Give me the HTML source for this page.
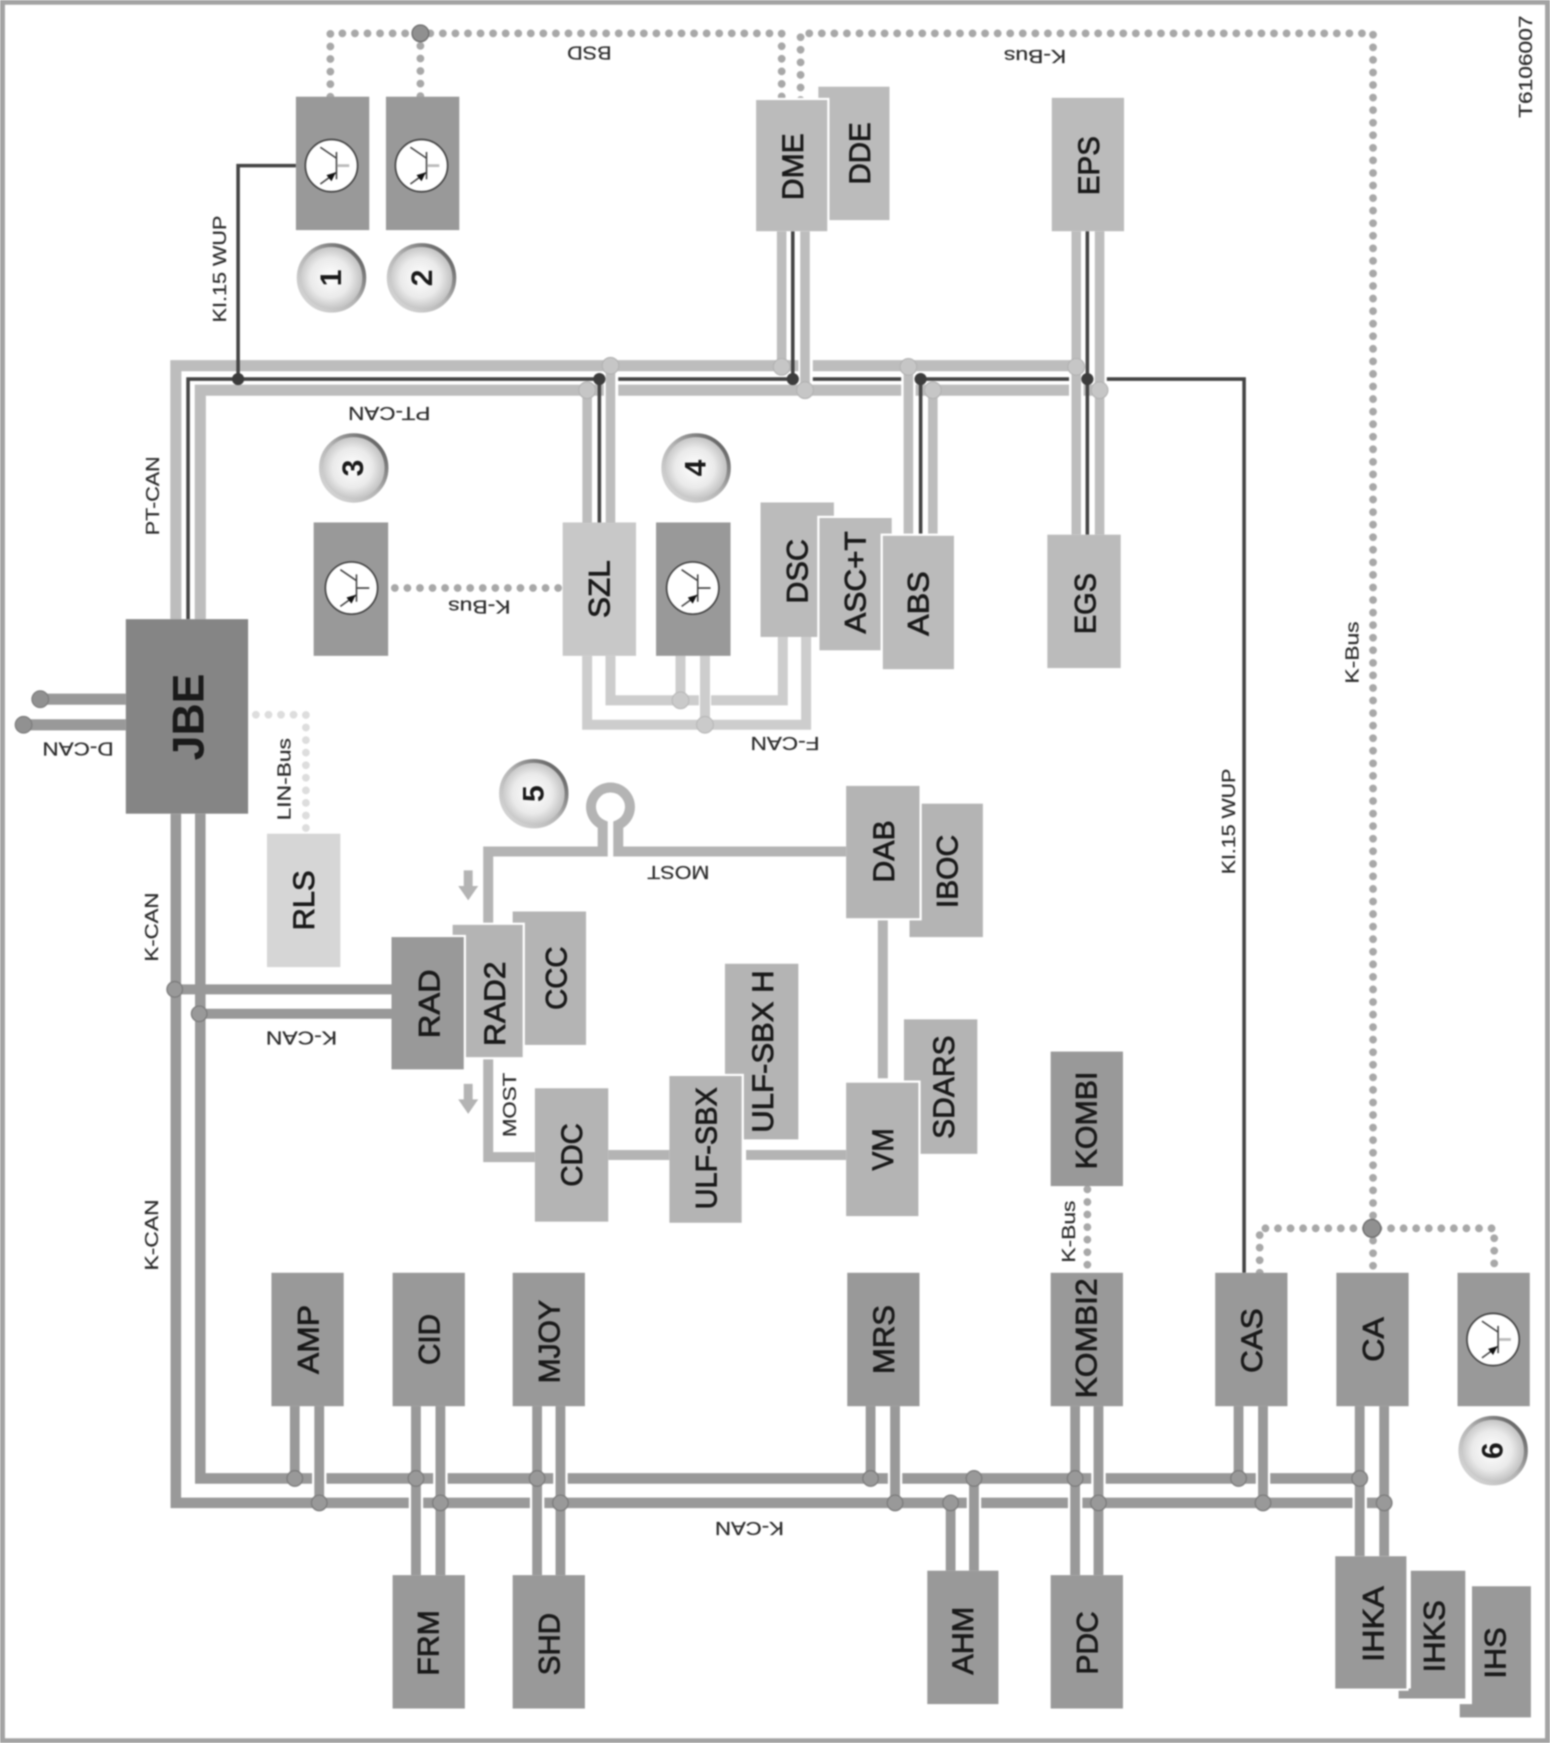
<!DOCTYPE html>
<html><head><meta charset="utf-8"><style>
html,body{margin:0;padding:0;background:#fff;width:1550px;height:1743px;overflow:hidden}
svg{display:block;filter:blur(.9px)}
text{font-family:"Liberation Sans",sans-serif;dominant-baseline:central;text-anchor:middle;fill:#1a1a1a}
.b text{font-size:27px;stroke:#1a1a1a;stroke-width:.7px}
.l text{font-size:17px;fill:#2c2c2c;stroke:#2c2c2c;stroke-width:.2px}
.n text{font-size:27px;font-weight:bold}
.d{fill:none;stroke:#a8a8a8;stroke-width:7;stroke-linecap:round;stroke-dasharray:0 11.3}
.w{fill:none;stroke:#fff}
.pt{fill:none;stroke:#bdbdbd;stroke-width:10}
.dk{fill:none;stroke:#444;stroke-width:3.2}
.f{fill:none;stroke:#cdcdcd;stroke-width:9}
.k{fill:none;stroke:#999;stroke-width:9.5}
.m{fill:none;stroke:#b4b4b4;stroke-width:9}
</style></head><body>
<svg xmlns="http://www.w3.org/2000/svg" width="1550" height="1743" viewBox="0 0 1394 1568">
<defs>
<radialGradient id="g" cx="48%" cy="50%" r="55%"><stop offset="0" stop-color="#fff"/><stop offset=".55" stop-color="#eaeaea"/><stop offset="1" stop-color="#b4b4b4"/></radialGradient>
<linearGradient id="r" x1="0" y1="1" x2="1" y2="0"><stop offset="0" stop-color="#ddd"/><stop offset=".5" stop-color="#b4b4b4"/><stop offset="1" stop-color="#4c4c4c"/></linearGradient>
<g id="tr"><circle r="23.5" fill="#fff" stroke="#444" stroke-width="1.5"/><path d="M4.5-12.3V12.3M4.5-6.6-10-16.5M4.5 6-10 16.5" fill="none" stroke="#444" stroke-width="1.4"/><path d="M4 6-4.5 8.5 0 14Z" fill="#111"/></g>
<g id="ci"><circle r="29.5" fill="url(#g)" stroke="url(#r)" stroke-width="3.5"/></g>
</defs>
<rect x="2" y="2" width="1390" height="1564" fill="#fff" stroke="#a3a3a3" stroke-width="4.5"/>

<!-- dotted buses -->
<path class="d" d="M297 87V30H703V90M378 30V87"/>
<path class="d" d="M720 90V30H1235V1145M1133 1145V1105H1344V1145"/>
<path class="d" d="M355 529H505"/>
<path class="d" d="M978 1070V1145"/>
<path class="d" style="stroke:#ddd" d="M230 643H275V747"/>
<circle cx="378" cy="30" r="7.5" fill="#909090" stroke="#6c6c6c" stroke-width="1.2"/>
<circle cx="1234" cy="1105" r="8" fill="#909090" stroke="#6c6c6c" stroke-width="1.2"/>

<!-- PT-CAN -->
<path class="pt" d="M158 557V329H968M180 557V351H989"/>
<path class="dk" d="M169 557V341H1119V1145M214 341V149H266"/>
<path class="w" stroke-width="13" d="M549.5 336V470"/>
<path class="w" stroke-width="13" d="M724.5 208V346"/>
<path class="w" stroke-width="13" d="M817 336V482"/>
<path class="w" stroke-width="13" d="M968 336V481"/>
<path class="w" stroke-width="13" d="M989 337V347"/>
<path class="pt" style="stroke-width:8.6" d="M528 351V470M549 329V470M703 208V330M724 208V351M817 330V482M839 351V482M968 208V481M989 208V481"/>
<path class="dk" d="M539 341V470M713 208V341M828 341V482M978 208V481"/>
<g fill="#c6c6c6" stroke="#b2b2b2"><circle cx="549" cy="329" r="7.5"/><circle cx="528" cy="351" r="7.5"/><circle cx="703" cy="330" r="7.5"/><circle cx="724" cy="351" r="7.5"/><circle cx="817" cy="330" r="7.5"/><circle cx="839" cy="351" r="7.5"/><circle cx="968" cy="330" r="7.5"/><circle cx="989" cy="351" r="7.5"/></g>
<g fill="#3c3c3c"><circle cx="214" cy="341" r="5.5"/><circle cx="539" cy="341" r="5.5"/><circle cx="713" cy="341" r="5.5"/><circle cx="828" cy="341" r="5.5"/><circle cx="978" cy="341" r="5.5"/></g>

<!-- F-CAN -->
<path class="f" d="M549 590V630H704V573"/>
<path class="w" stroke-width="11" d="M634 590V645"/>
<path class="f" d="M528 590V652H725V573M612 590V630M634 590V652"/>
<g fill="#cacaca" stroke="#b8b8b8"><circle cx="612" cy="630" r="7.5"/><circle cx="634" cy="652" r="7.5"/></g>

<!-- D-CAN -->
<path class="k" style="stroke-width:10" d="M36 629H113M21 652H113"/>
<g fill="#919191" stroke="#7a7a7a"><circle cx="36" cy="629" r="7.5"/><circle cx="21" cy="652" r="7.5"/></g>

<!-- K-CAN -->
<path class="k" d="M158 732V1352H1245M180 732V1330H1223"/>
<path class="k" style="stroke-width:9" d="M157 890H352M179 912H352"/>
<path class="w" stroke-width="13" d="M287 1323V1337M396 1323V1337M504 1323V1337M805 1323V1337M988 1323V1337M1136 1323V1337M374 1345V1359M483 1345V1359M876 1345V1359M967 1345V1359M1223 1345V1359"/>
<path class="k" style="stroke-width:8.8" d="M265 1265V1330M287 1265V1352M374 1265V1417M396 1265V1417M483 1265V1417M504 1265V1417M783 1265V1330M805 1265V1352M855 1352V1413M876 1330V1413M967 1265V1417M988 1265V1417M1114 1265V1330M1136 1265V1352M1223 1265V1400M1245 1265V1400"/>
<g fill="#999" stroke="#7c7c7c" stroke-width="1.2"><circle cx="157" cy="890" r="7"/><circle cx="179" cy="912" r="7"/><circle cx="265" cy="1330" r="7"/><circle cx="287" cy="1352" r="7"/><circle cx="374" cy="1330" r="7"/><circle cx="396" cy="1352" r="7"/><circle cx="483" cy="1330" r="7"/><circle cx="504" cy="1352" r="7"/><circle cx="783" cy="1330" r="7"/><circle cx="805" cy="1352" r="7"/><circle cx="855" cy="1352" r="7"/><circle cx="876" cy="1330" r="7"/><circle cx="967" cy="1330" r="7"/><circle cx="988" cy="1352" r="7"/><circle cx="1114" cy="1330" r="7"/><circle cx="1136" cy="1352" r="7"/><circle cx="1223" cy="1330" r="7"/><circle cx="1245" cy="1352" r="7"/></g>

<!-- MOST -->
<path class="m" d="M761 766H556V742A17.5 17.5 0 1 0 542 742V766H439V832M439 951V1041H481M547 1039H602M671 1039H761M794 826V970"/>
<path fill="#b4b4b4" d="M417 783h8v14h5l-9 13-9-13h5zM417 975h8v14h5l-9 13-9-13h5z"/>

<!-- boxes -->
<rect x="266" y="87" width="66" height="120" fill="#999"/>
<rect x="347" y="87" width="66" height="120" fill="#999"/>
<rect x="736" y="78" width="64" height="120" fill="#bbb"/>
<rect x="680" y="88" width="66" height="120" fill="#fff"/>
<rect x="680" y="90" width="64" height="118" fill="#bbb"/>
<rect x="946" y="88" width="65" height="120" fill="#bbb"/>
<rect x="113" y="557" width="110" height="175" fill="#858585"/>
<rect x="282" y="470" width="67" height="120" fill="#999"/>
<rect x="506" y="470" width="66" height="120" fill="#c8c8c8"/>
<rect x="590" y="470" width="67" height="120" fill="#999"/>
<rect x="684" y="452" width="66" height="121" fill="#bbb"/>
<rect x="735" y="464" width="69" height="123" fill="#fff"/>
<rect x="737" y="466" width="65" height="119" fill="#bbb"/>
<rect x="792" y="480" width="68" height="124" fill="#fff"/>
<rect x="794" y="482" width="64" height="120" fill="#bbb"/>
<rect x="942" y="481" width="66" height="120" fill="#bbb"/>
<rect x="240" y="750" width="66" height="120" fill="#d6d6d6"/>
<rect x="461" y="820" width="66" height="120" fill="#b4b4b4"/>
<rect x="405" y="830" width="67" height="123" fill="#fff"/>
<rect x="407" y="832" width="63" height="119" fill="#b4b4b4"/>
<rect x="352" y="841" width="67" height="123" fill="#fff"/>
<rect x="352" y="843" width="65" height="119" fill="#999"/>
<rect x="481" y="979" width="66" height="120" fill="#b4b4b4"/>
<rect x="652" y="867" width="66" height="158" fill="#b4b4b4"/>
<rect x="602" y="966" width="67" height="136" fill="#fff"/>
<rect x="602" y="968" width="65" height="132" fill="#b4b4b4"/>
<rect x="813" y="917" width="66" height="121" fill="#b4b4b4"/>
<rect x="761" y="972" width="67" height="124" fill="#fff"/>
<rect x="761" y="974" width="65" height="120" fill="#b4b4b4"/>
<rect x="818" y="723" width="66" height="120" fill="#b4b4b4"/>
<rect x="761" y="705" width="68" height="123" fill="#fff"/>
<rect x="761" y="707" width="66" height="119" fill="#b4b4b4"/>
<rect x="945" y="946" width="65" height="121" fill="#999"/>
<rect x="244" y="1145" width="65" height="120" fill="#999"/>
<rect x="353" y="1145" width="65" height="120" fill="#999"/>
<rect x="461" y="1145" width="65" height="120" fill="#999"/>
<rect x="762" y="1145" width="65" height="120" fill="#999"/>
<rect x="945" y="1145" width="65" height="120" fill="#999"/>
<rect x="1093" y="1145" width="65" height="120" fill="#999"/>
<rect x="1202" y="1145" width="65" height="120" fill="#999"/>
<rect x="1311" y="1145" width="65" height="120" fill="#999"/>
<rect x="353" y="1417" width="65" height="120" fill="#999"/>
<rect x="461" y="1417" width="65" height="120" fill="#999"/>
<rect x="834" y="1413" width="64" height="120" fill="#999"/>
<rect x="945" y="1417" width="65" height="120" fill="#999"/>
<path d="M1324 1427H1377V1545H1313V1533H1324Z" fill="#999"/>
<path d="M1268 1412H1319V1529H1257V1518H1268Z" fill="#999" stroke="#fff" stroke-width="2"/>
<rect x="1201" y="1400" width="66" height="121" fill="#fff"/>
<rect x="1201" y="1400" width="64" height="119" fill="#999"/>

<!-- transistors -->
<use href="#tr" x="298" y="149"/><path d="M303 149H314" stroke="#bbb" stroke-width="2.5"/>
<use href="#tr" x="379" y="149"/><path d="M384 149H395" stroke="#bbb" stroke-width="2.5"/>
<use href="#tr" x="316" y="529"/><path d="M321 529H332" stroke="#444" stroke-width="1.5"/>
<use href="#tr" x="623" y="529"/><path d="M628 529H639" stroke="#444" stroke-width="1.5"/>
<use href="#tr" x="1343" y="1205"/><path d="M1348 1205H1359" stroke="#bbb" stroke-width="2.5"/>

<!-- numbered circles -->
<use href="#ci" x="298" y="250"/><use href="#ci" x="379" y="250"/><use href="#ci" x="318" y="421"/><use href="#ci" x="626" y="421"/><use href="#ci" x="480" y="714"/><use href="#ci" x="1343" y="1305"/>
<g class="n">
<text transform="translate(298,250) rotate(-90)">1</text>
<text transform="translate(380,250) rotate(-90)">2</text>
<text transform="translate(318,421) rotate(-90)">3</text>
<text transform="translate(626,421) rotate(-90)">4</text>
<text transform="translate(480,714) rotate(-90)">5</text>
<text transform="translate(1343,1305) rotate(-90)">6</text>
</g>

<!-- box labels -->
<g class="b" transform="translate(.7,0)">
<text transform="translate(713,150) rotate(-90)" textLength="60" lengthAdjust="spacingAndGlyphs">DME</text>
<text transform="translate(773,138) rotate(-90)" textLength="56" lengthAdjust="spacingAndGlyphs">DDE</text>
<text transform="translate(979,149) rotate(-90)" textLength="53" lengthAdjust="spacingAndGlyphs">EPS</text>
<text transform="translate(539,530) rotate(-90)" textLength="52" lengthAdjust="spacingAndGlyphs">SZL</text>
<text transform="translate(717,514) rotate(-90)" textLength="58" lengthAdjust="spacingAndGlyphs">DSC</text>
<text transform="translate(769,524) rotate(-90)" textLength="92" lengthAdjust="spacingAndGlyphs">ASC+T</text>
<text transform="translate(826,543) rotate(-90)" textLength="58" lengthAdjust="spacingAndGlyphs">ABS</text>
<text transform="translate(976,543) rotate(-90)" textLength="55" lengthAdjust="spacingAndGlyphs">EGS</text>
<text transform="translate(273,810) rotate(-90)" textLength="54" lengthAdjust="spacingAndGlyphs">RLS</text>
<text transform="translate(386,903) rotate(-90)" textLength="62" lengthAdjust="spacingAndGlyphs">RAD</text>
<text transform="translate(445,903) rotate(-90)" textLength="76" lengthAdjust="spacingAndGlyphs">RAD2</text>
<text transform="translate(500,880) rotate(-90)" textLength="57" lengthAdjust="spacingAndGlyphs">CCC</text>
<text transform="translate(514,1039) rotate(-90)" textLength="57" lengthAdjust="spacingAndGlyphs">CDC</text>
<text transform="translate(635,1033) rotate(-90)" textLength="110" lengthAdjust="spacingAndGlyphs">ULF-SBX</text>
<text transform="translate(686,946) rotate(-90)" textLength="146" lengthAdjust="spacingAndGlyphs">ULF-SBX H</text>
<text transform="translate(794,1034) rotate(-90)" textLength="38" lengthAdjust="spacingAndGlyphs">VM</text>
<text transform="translate(849,978) rotate(-90)" textLength="93" lengthAdjust="spacingAndGlyphs">SDARS</text>
<text transform="translate(795,766) rotate(-90)" textLength="56" lengthAdjust="spacingAndGlyphs">DAB</text>
<text transform="translate(852,784) rotate(-90)" textLength="66" lengthAdjust="spacingAndGlyphs">IBOC</text>
<text transform="translate(977,1008) rotate(-90)" textLength="88" lengthAdjust="spacingAndGlyphs">KOMBI</text>
<text transform="translate(277,1205) rotate(-90)" textLength="62" lengthAdjust="spacingAndGlyphs">AMP</text>
<text transform="translate(386,1205) rotate(-90)" textLength="46" lengthAdjust="spacingAndGlyphs">CID</text>
<text transform="translate(494,1207) rotate(-90)" textLength="75" lengthAdjust="spacingAndGlyphs">MJOY</text>
<text transform="translate(795,1205) rotate(-90)" textLength="62" lengthAdjust="spacingAndGlyphs">MRS</text>
<text transform="translate(977,1204) rotate(-90)" textLength="108" lengthAdjust="spacingAndGlyphs">KOMBI2</text>
<text transform="translate(1126,1206) rotate(-90)" textLength="58" lengthAdjust="spacingAndGlyphs">CAS</text>
<text transform="translate(1235,1205) rotate(-90)" textLength="40" lengthAdjust="spacingAndGlyphs">CA</text>
<text transform="translate(385,1478) rotate(-90)" textLength="59" lengthAdjust="spacingAndGlyphs">FRM</text>
<text transform="translate(494,1479) rotate(-90)" textLength="56" lengthAdjust="spacingAndGlyphs">SHD</text>
<text transform="translate(866,1476) rotate(-90)" textLength="61" lengthAdjust="spacingAndGlyphs">AHM</text>
<text transform="translate(978,1478) rotate(-90)" textLength="57" lengthAdjust="spacingAndGlyphs">PDC</text>
<text transform="translate(1235,1461) rotate(-90)" textLength="68" lengthAdjust="spacingAndGlyphs">IHKA</text>
<text transform="translate(1290,1472) rotate(-90)" textLength="65" lengthAdjust="spacingAndGlyphs">IHKS</text>
<text transform="translate(1345,1487) rotate(-90)" textLength="46" lengthAdjust="spacingAndGlyphs">IHS</text>
</g>
<text transform="translate(170,645) rotate(-90)" style="font-size:40px;font-weight:bold" textLength="78" lengthAdjust="spacingAndGlyphs">JBE</text>

<!-- bus labels -->
<g class="l">
<text transform="translate(198,242) rotate(-90)" textLength="96" lengthAdjust="spacingAndGlyphs">KI.15 WUP</text>
<text transform="translate(138,446) rotate(-90)" textLength="71" lengthAdjust="spacingAndGlyphs">PT-CAN</text>
<text transform="translate(137,834) rotate(-90)" textLength="62" lengthAdjust="spacingAndGlyphs">K-CAN</text>
<text transform="translate(137,1111) rotate(-90)" textLength="64" lengthAdjust="spacingAndGlyphs">K-CAN</text>
<text transform="translate(256,701) rotate(-90)" textLength="74" lengthAdjust="spacingAndGlyphs">LIN-Bus</text>
<text transform="translate(459,994) rotate(-90)" textLength="58" lengthAdjust="spacingAndGlyphs">MOST</text>
<text transform="translate(1106,739) rotate(-90)" textLength="95" lengthAdjust="spacingAndGlyphs">KI.15 WUP</text>
<text transform="translate(1217,587) rotate(-90)" textLength="56" lengthAdjust="spacingAndGlyphs">K-Bus</text>
<text transform="translate(962,1108) rotate(-90)" textLength="56" lengthAdjust="spacingAndGlyphs">K-Bus</text>
<text transform="translate(1373,60) rotate(-90)" textLength="92" lengthAdjust="spacingAndGlyphs">T6106007</text>
<text transform="translate(530,47) rotate(180)" textLength="40" lengthAdjust="spacingAndGlyphs">BSD</text>
<text transform="translate(931,50) rotate(180)" textLength="56" lengthAdjust="spacingAndGlyphs">K-Bus</text>
<text transform="translate(350,371) rotate(180)" textLength="74" lengthAdjust="spacingAndGlyphs">PT-CAN</text>
<text transform="translate(431,545) rotate(180)" textLength="56" lengthAdjust="spacingAndGlyphs">K-Bus</text>
<text transform="translate(706,668) rotate(180)" textLength="62" lengthAdjust="spacingAndGlyphs">F-CAN</text>
<text transform="translate(70,673) rotate(180)" textLength="64" lengthAdjust="spacingAndGlyphs">D-CAN</text>
<text transform="translate(610,784) rotate(180)" textLength="56" lengthAdjust="spacingAndGlyphs">MOST</text>
<text transform="translate(271,933) rotate(180)" textLength="64" lengthAdjust="spacingAndGlyphs">K-CAN</text>
<text transform="translate(674,1374) rotate(180)" textLength="62" lengthAdjust="spacingAndGlyphs">K-CAN</text>
</g>
</svg>
</body></html>
